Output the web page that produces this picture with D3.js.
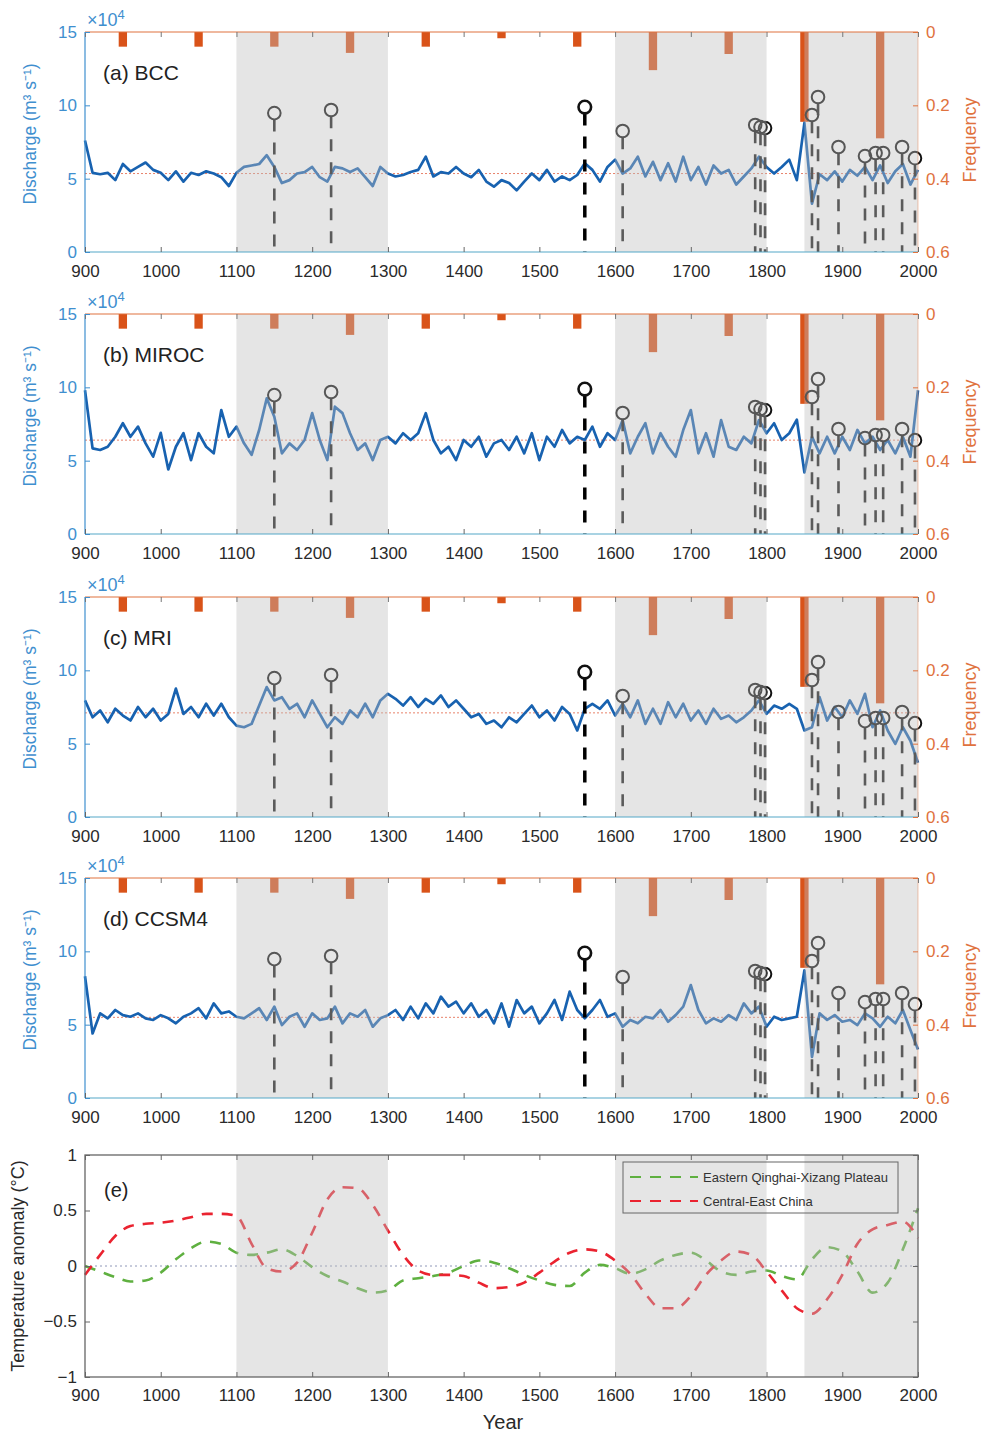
<!DOCTYPE html>
<html><head><meta charset="utf-8">
<script src="https://cdn.jsdelivr.net/npm/d3@7"></script>
<style>body{margin:0;background:#fff}svg{display:block;font-family:"Liberation Sans",Arial,sans-serif}</style>
</head><body><svg id="c" width="982" height="1436"></svg>
<script>
// ---------- DATA ----------
const seriesYears = d3.range(900, 2001, 10);
const bccValues = [7.6,5.4,5.3,5.4,4.9,6.0,5.5,5.8,6.1,5.6,5.4,4.9,5.5,4.8,5.4,5.25,5.5,5.35,5.1,4.5,5.4,5.8,5.9,6.0,6.6,5.8,4.7,4.9,5.35,5.45,5.8,5.1,4.8,5.8,5.7,5.45,5.7,5.1,4.5,5.8,5.35,5.15,5.25,5.45,5.6,6.5,5.15,5.45,5.35,5.8,5.35,5.1,5.6,4.8,4.45,4.9,4.7,4.2,4.8,5.35,4.9,5.6,4.8,5.15,4.9,5.25,6.05,5.6,4.8,5.8,6.3,5.35,5.7,6.5,5.15,6.15,4.9,6.05,4.8,6.5,4.9,5.8,4.6,5.9,5.35,5.6,4.6,5.15,5.7,6.5,5.8,5.35,5.8,6.3,4.9,8.8,3.3,5.3,4.9,5.5,4.8,5.6,5.2,5.8,4.9,5.9,4.7,5.5,6.0,4.6,5.6];
const mirocValues = [9.8,5.84,5.73,5.95,6.63,7.55,6.63,7.32,6.18,5.27,6.9,4.4,5.95,6.87,5.04,6.87,5.95,5.5,8.45,6.63,7.32,6.18,5.4,7.09,9.25,8.0,5.5,6.18,5.73,6.41,8.24,6.41,5.04,8.68,8.24,6.87,5.73,6.18,5.04,6.41,6.63,6.18,6.87,6.41,6.87,8.24,6.41,5.5,5.95,5.04,6.41,5.95,6.63,5.27,6.18,6.41,5.73,6.63,5.5,6.87,5.04,6.63,5.95,7.09,6.18,6.63,6.41,7.32,5.95,6.87,6.41,7.77,5.5,6.63,7.55,5.5,6.87,5.95,5.27,7.09,8.45,5.5,6.87,5.27,7.77,5.95,5.73,6.63,6.18,7.77,6.87,7.55,6.41,6.87,7.8,4.2,6.63,5.5,6.63,5.5,6.63,5.73,7.09,6.18,6.63,5.73,6.41,5.5,6.63,5.27,9.8];
const mriValues = [7.95,6.8,7.26,6.46,7.38,6.92,6.58,7.5,6.8,7.38,6.58,7.03,8.75,7.03,7.5,6.8,7.72,6.92,7.72,6.8,6.23,6.12,6.35,7.6,8.86,7.95,8.17,7.38,7.72,6.8,7.95,7.03,6.12,6.8,6.35,7.26,6.8,7.72,6.8,7.95,8.4,8.06,7.6,8.17,7.5,8.06,7.72,8.29,7.5,7.95,7.38,6.8,7.03,6.35,6.58,6.12,6.8,6.46,7.03,7.6,6.8,7.26,6.58,7.5,7.03,5.9,7.38,7.72,7.38,7.95,6.92,7.72,6.8,7.95,6.35,7.38,6.35,7.83,6.8,7.72,6.58,7.26,6.35,7.38,6.69,6.92,6.46,6.8,7.26,7.95,7.03,7.6,7.38,7.72,7.38,5.9,6.12,8.17,6.58,7.5,6.8,7.95,7.03,8.4,6.12,7.26,5.9,4.98,6.12,5.2,3.7];
const ccsmValues = [8.3,4.4,5.77,5.43,6.0,5.65,5.54,5.77,5.43,5.32,5.65,5.43,5.09,5.54,5.77,6.12,5.43,6.45,5.77,5.9,5.54,5.43,5.77,6.12,5.32,6.23,4.97,5.54,5.77,4.86,5.77,5.32,5.43,6.23,5.09,5.77,5.54,6.0,4.86,5.43,5.65,6.0,5.32,6.23,5.43,6.45,5.77,6.91,6.23,6.57,5.77,6.45,5.54,6.0,5.09,6.45,4.86,6.68,5.77,6.23,5.09,5.77,6.68,5.32,7.25,6.0,5.43,6.0,6.68,5.54,5.77,4.86,5.32,5.09,5.54,5.43,6.0,5.2,5.65,6.23,7.7,6.0,5.09,5.43,5.2,5.65,5.32,6.45,5.77,6.23,4.86,5.54,5.32,5.43,5.54,8.7,2.8,5.77,5.32,5.65,5.2,5.32,4.97,5.77,5.43,4.86,5.54,5.09,6.0,4.64,3.3];
const meanLevels = [5.35, 6.4, 7.1, 5.5];
const panelNames = ["(a) BCC", "(b) MIROC", "(c) MRI", "(d) CCSM4"];

const freqYears = [950,1050,1150,1250,1350,1450,1550,1650,1750,1850,1950];
const freqValues = [0.04,0.04,0.04,0.057,0.04,0.017,0.04,0.104,0.06,0.245,0.29];

const eventYears = [1150,1225,1560,1610,1785,1792,1798,1860,1868,1895,1930,1944,1954,1979,1996];
const eventValues = [9.47,9.68,9.88,8.25,8.66,8.52,8.45,9.34,10.57,7.16,6.54,6.75,6.75,7.16,6.4];
const majorEvent = 1560;

const shadedPeriods = [[1100,1300],[1600,1800],[1850,2000]];

const xTicks = d3.range(900, 2001, 100);
const leftTicks = [0,5,10,15];
const rightTicks = [0,0.2,0.4,0.6];
const tempTicks = [-1,-0.5,0,0.5,1];

const tempYears = d3.range(900, 2001, 20);
const plateauTemp = [0,-0.05,-0.1,-0.14,-0.13,-0.06,0.06,0.16,0.22,0.2,0.12,0.1,0.12,0.15,0.09,-0.01,-0.09,-0.14,-0.2,-0.24,-0.22,-0.13,-0.11,-0.09,-0.06,0.0,0.05,0.03,-0.02,-0.08,-0.13,-0.17,-0.18,-0.06,0.01,-0.02,-0.07,-0.03,0.05,0.1,0.12,0.05,-0.05,-0.08,-0.05,-0.04,-0.09,-0.12,0.06,0.17,0.13,-0.05,-0.24,-0.15,0.15,0.52];
const eastChinaTemp = [-0.08,0.1,0.27,0.36,0.38,0.39,0.41,0.44,0.47,0.47,0.45,0.2,-0.02,-0.05,0.03,0.3,0.6,0.71,0.7,0.55,0.32,0.1,-0.04,-0.08,-0.08,-0.09,-0.15,-0.2,-0.19,-0.15,-0.06,0.04,0.12,0.15,0.13,0.05,-0.07,-0.25,-0.38,-0.38,-0.27,-0.08,0.05,0.13,0.1,-0.05,-0.22,-0.38,-0.43,-0.3,-0.08,0.2,0.33,0.37,0.4,0.25];
const legendLabels = ["Eastern Qinghai-Xizang Plateau", "Central-East China"];

// ---------- DRAW ----------
const svg = d3.select("#c");
const blueAxis = "#3f8fcf", orangeAxis = "#e0723e", lineBlue = "#1862b0", barOrange = "#d95319";
const tickFont = 17;
const x = d3.scaleLinear().domain([900,2000]).range([85,918]);
const tops = [32, 314, 597, 878];
const H = 220;
const allSeries = [bccValues, mirocValues, mriValues, ccsmValues];
const barHalf = 5.5; // years

tops.forEach((top, i) => {
  const bottom = top + H;
  const y = d3.scaleLinear().domain([0,15]).range([bottom, top]);
  const yr = d3.scaleLinear().domain([0,0.6]).range([top, bottom]);
  const g = svg.append("g");
  g.append("line").attr("x1", x(900)).attr("x2", x(2000)).attr("y1", y(meanLevels[i])).attr("y2", y(meanLevels[i]))
    .attr("stroke", "#e8826a").attr("stroke-width", 1).attr("stroke-dasharray", "2,2");
  g.selectAll("rect.bar").data(freqYears).join("rect")
    .attr("x", d => x(d - barHalf)).attr("width", d => x(d + barHalf) - x(d - barHalf)).attr("y", top)
    .attr("height", (d, k) => yr(freqValues[k]) - top).attr("fill", barOrange);
  const line = d3.line().x((d, k) => x(seriesYears[k])).y(d => y(d));
  g.append("path").datum(allSeries[i]).attr("d", line).attr("fill", "none")
    .attr("stroke", lineBlue).attr("stroke-width", 2.7).attr("stroke-linejoin", "round");
  const r = 6.3;
  eventYears.forEach((yr0, k) => {
    const major = yr0 === majorEvent;
    g.append("line").attr("x1", x(yr0)).attr("x2", x(yr0)).attr("y1", y(eventValues[k]) + r).attr("y2", bottom)
      .attr("stroke", major ? "#000" : "#1a1a1a").attr("stroke-width", major ? 3.5 : 2.6).attr("stroke-dasharray", "12,11");
    g.append("circle").attr("cx", x(yr0)).attr("cy", y(eventValues[k])).attr("r", r)
      .attr("fill", "none").attr("stroke", "#111").attr("stroke-width", major ? 2.6 : 2);
  });
  g.selectAll("rect.shade").data(shadedPeriods).join("rect")
    .attr("x", d => x(d[0])).attr("width", d => x(d[1]) - x(d[0])).attr("y", top).attr("height", H)
    .attr("fill", "#bdbdbd").attr("fill-opacity", 0.4);
  g.append("line").attr("x1", x(900)).attr("x2", x(2000)).attr("y1", top).attr("y2", top).attr("stroke", orangeAxis).attr("stroke-width", 1.2);
  g.append("line").attr("x1", x(900)).attr("x2", x(2000)).attr("y1", bottom).attr("y2", bottom).attr("stroke", "#55a8c8").attr("stroke-width", 1.2);
  g.append("line").attr("x1", x(900)).attr("x2", x(900)).attr("y1", top).attr("y2", bottom).attr("stroke", blueAxis).attr("stroke-width", 1.2);
  g.append("line").attr("x1", x(2000)).attr("x2", x(2000)).attr("y1", top).attr("y2", bottom).attr("stroke", orangeAxis).attr("stroke-width", 0.8).attr("stroke-opacity", 0.5);
  const gb = g.append("g").attr("transform", `translate(0,${bottom})`).call(d3.axisBottom(x).tickValues(xTicks).tickSize(-5).tickSizeOuter(0).tickFormat(d3.format("d")));
  gb.select(".domain").remove();
  gb.selectAll(".tick line").attr("stroke", "#666");
  gb.selectAll(".tick text").attr("fill", "#2a2a2a").attr("font-size", tickFont).attr("dy", "1.28em");
  const gt = g.append("g").attr("transform", `translate(0,${top})`).call(d3.axisTop(x).tickValues(xTicks).tickSize(-5).tickFormat(""));
  gt.select(".domain").remove(); gt.selectAll(".tick line").attr("stroke", "#777");
  const gl = g.append("g").attr("transform", `translate(${x(900)},0)`).call(d3.axisLeft(y).tickValues(leftTicks).tickSize(-5).tickPadding(8));
  gl.select(".domain").remove();
  gl.selectAll(".tick line").attr("stroke", blueAxis);
  gl.selectAll(".tick text").attr("fill", blueAxis).attr("font-size", tickFont);
  const gr = g.append("g").attr("transform", `translate(${x(2000)},0)`).call(d3.axisRight(yr).tickValues(rightTicks).tickSize(-5).tickPadding(8).tickFormat(d => d === 0 ? "0" : d3.format(".1f")(d)));
  gr.select(".domain").remove();
  gr.selectAll(".tick line").attr("stroke", orangeAxis);
  gr.selectAll(".tick text").attr("fill", orangeAxis).attr("font-size", tickFont);
  const xt = g.append("text").attr("x", 87).attr("y", top - 6).attr("fill", blueAxis).attr("font-size", 18).text("×10");
  xt.append("tspan").attr("dy", -7).attr("font-size", 13).text("4");
  g.append("text").attr("transform", `translate(36,${top + H / 2 - 8}) rotate(-90)`).attr("text-anchor", "middle")
    .attr("fill", blueAxis).attr("font-size", 17.5).text("Discharge (m³ s⁻¹)");
  g.append("text").attr("transform", `translate(976,${top + H / 2 - 2}) rotate(-90)`).attr("text-anchor", "middle")
    .attr("fill", orangeAxis).attr("font-size", 18).text("Frequency");
  g.append("text").attr("x", 103).attr("y", top + 48).attr("fill", "#222").attr("font-size", 21).text(panelNames[i]);
});

// ---------- panel (e) ----------
{
  const top = 1155, bottom = 1377;
  const y = d3.scaleLinear().domain([-1,1]).range([bottom, top]);
  const g = svg.append("g");
  g.append("line").attr("x1", x(900)).attr("x2", x(2000)).attr("y1", y(0)).attr("y2", y(0))
    .attr("stroke", "#8e97b8").attr("stroke-width", 1).attr("stroke-dasharray", "2,3");
  const line = d3.line().x((d, k) => x(tempYears[k])).y(d => y(d)).curve(d3.curveMonotoneX);
  g.append("path").datum(plateauTemp).attr("d", line).attr("fill", "none").attr("stroke", "#5fb040")
    .attr("stroke-width", 2.6).attr("stroke-dasharray", "11,9");
  g.append("path").datum(eastChinaTemp).attr("d", line).attr("fill", "none").attr("stroke", "#ea2330")
    .attr("stroke-width", 2.6).attr("stroke-dasharray", "11,9");
  g.selectAll("rect.shade").data(shadedPeriods).join("rect")
    .attr("x", d => x(d[0])).attr("width", d => x(d[1]) - x(d[0])).attr("y", top).attr("height", bottom - top)
    .attr("fill", "#bdbdbd").attr("fill-opacity", 0.4);
  g.append("rect").attr("x", x(900)).attr("y", top).attr("width", x(2000) - x(900)).attr("height", bottom - top)
    .attr("fill", "none").attr("stroke", "#666").attr("stroke-width", 1.3);
  const gb = g.append("g").attr("transform", `translate(0,${bottom})`).call(d3.axisBottom(x).tickValues(xTicks).tickSize(-5).tickFormat(d3.format("d")));
  gb.select(".domain").remove(); gb.selectAll(".tick line").attr("stroke", "#666");
  gb.selectAll(".tick text").attr("fill", "#2a2a2a").attr("font-size", tickFont).attr("dy", "1.25em");
  const gt = g.append("g").attr("transform", `translate(0,${top})`).call(d3.axisTop(x).tickValues(xTicks).tickSize(-5).tickFormat(""));
  gt.select(".domain").remove(); gt.selectAll(".tick line").attr("stroke", "#666");
  const gl = g.append("g").attr("transform", `translate(${x(900)},0)`).call(d3.axisLeft(y).tickValues(tempTicks).tickSize(-5).tickPadding(8).tickFormat(d => d3.format("")(d).replace("-", "−")));
  gl.select(".domain").remove(); gl.selectAll(".tick line").attr("stroke", "#666");
  gl.selectAll(".tick text").attr("fill", "#2a2a2a").attr("font-size", tickFont);
  const gr = g.append("g").attr("transform", `translate(${x(2000)},0)`).call(d3.axisRight(y).tickValues(tempTicks).tickSize(-5).tickFormat(""));
  gr.select(".domain").remove(); gr.selectAll(".tick line").attr("stroke", "#666");
  g.append("text").attr("x", 104).attr("y", 1197).attr("fill", "#222").attr("font-size", 20).text("(e)");
  g.append("text").attr("transform", `translate(24,${(top + bottom) / 2}) rotate(-90)`).attr("text-anchor", "middle")
    .attr("fill", "#2a2a2a").attr("font-size", 18).text("Temperature anomaly (°C)");
  g.append("text").attr("x", 503).attr("y", 1429).attr("text-anchor", "middle").attr("fill", "#2a2a2a").attr("font-size", 20).text("Year");
  const lg = g.append("g");
  lg.append("rect").attr("x", 623).attr("y", 1162).attr("width", 275).attr("height", 51).attr("fill", "none").attr("stroke", "#666").attr("stroke-width", 1);
  const lc = ["#5fb040", "#ea2330"];
  legendLabels.forEach((t, k) => {
    const ly = 1177 + k * 24;
    lg.append("line").attr("x1", 630).attr("x2", 698).attr("y1", ly).attr("y2", ly).attr("stroke", lc[k]).attr("stroke-width", 2).attr("stroke-dasharray", "11,9");
    lg.append("text").attr("x", 703).attr("y", ly + 4.5).attr("fill", "#333").attr("font-size", 13).text(t);
  });
}
</script></body></html>
